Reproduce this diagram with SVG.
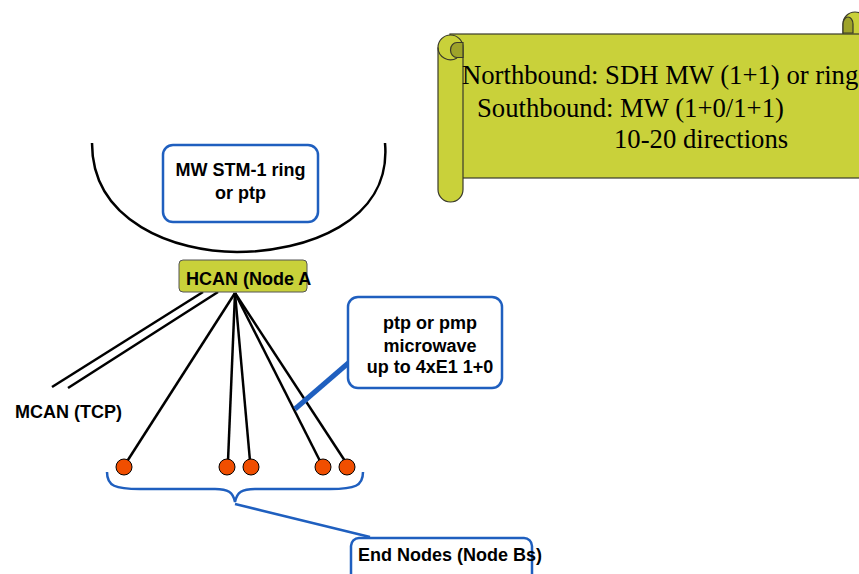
<svg xmlns="http://www.w3.org/2000/svg" width="859" height="574" viewBox="0 0 859 574">
<style>
.bold{font-family:"Liberation Sans",Arial,sans-serif;font-weight:bold;font-size:18px;fill:#000}
.serif{font-family:"Liberation Serif","Times New Roman",serif;font-size:26.7px;fill:#000}
.blue{fill:#fff;stroke:#1F5FBF;stroke-width:2.5}
.wire{stroke:#000;stroke-width:2.5;fill:none}
.end{fill:#F04E00;stroke:#000;stroke-width:1}
.scroll{fill:#C9D13A;stroke:#3a3a2a;stroke-width:1.2}
.curl{fill:#9EA32A;stroke:#3a3a2a;stroke-width:1.2}
.edge{fill:none;stroke:#3a3a2a;stroke-width:1.2}
</style>
<rect width="859" height="574" fill="#fff"/>
<g id="scroll">
  <path class="scroll" d="M843 40 L843 24 A12 12 0 0 1 867 24 L867 40 Z"/>
  <path class="curl" d="M843 33 L843 24 A5 7 0 0 1 853 24 L853 33 Z"/>
  <rect class="scroll" x="450" y="34" width="428" height="144"/>
  <path class="scroll" d="M438 47.5 A12.5 12.5 0 0 1 463 47.5 L463 189.5 A12.5 12.5 0 0 1 438 189.5 Z"/>
  <path class="curl" d="M463 42.5 L457 42.5 A6.5 7.5 0 0 0 457 57.5 L463 57.5 Z"/>
  <path class="edge" d="M438 47.5 A12.5 12.5 0 0 0 457 58"/>
  <text class="serif" x="462" y="84">Northbound: SDH MW (1+1) or ring</text>
  <text class="serif" x="477" y="117">Southbound: MW (1+0/1+1)</text>
  <text class="serif" x="614" y="148">10-20 directions</text>
</g>
<g id="connectors">
  <path class="wire" stroke-width="3" d="M92 143 C92 222, 175 252, 237 252 C305 252, 392 222, 385 143"/>
  <line class="wire" stroke-width="3.5" x1="203" y1="292" x2="52" y2="387"/>
  <line class="wire" stroke-width="3.5" x1="218" y1="292" x2="68" y2="388"/>
  <line class="wire" x1="235" y1="293" x2="126" y2="463"/>
  <line class="wire" x1="235" y1="293" x2="228" y2="461"/>
  <line class="wire" x1="235" y1="293" x2="250" y2="461"/>
  <line class="wire" x1="235" y1="293" x2="320" y2="461"/>
  <line class="wire" x1="235" y1="293" x2="345" y2="461"/>
  <line x1="295" y1="409" x2="353" y2="359" stroke="#1F5FBF" stroke-width="5"/>
  <path d="M107 472 C107 486, 115 489, 140 489 L215 489 C228 489, 233 492, 235 502 C237 492, 242 489, 255 489 L330 489 C355 489, 363 486, 363 472" fill="none" stroke="#1F5FBF" stroke-width="2.5"/>
  <line x1="235" y1="504" x2="370" y2="537" stroke="#1F5FBF" stroke-width="2.5"/>
</g>
<g id="ring-label">
  <rect class="blue" x="163" y="145" width="155" height="77" rx="10"/>
  <text class="bold" x="240.5" y="176" text-anchor="middle">MW STM-1 ring</text>
  <text class="bold" x="240.5" y="199" text-anchor="middle">or ptp</text>
</g>
<g id="hcan">
  <rect x="179" y="260" width="128" height="32" rx="4" fill="#C9D13A" stroke="#555" stroke-width="1"/>
  <text class="bold" x="186" y="285">HCAN (Node A</text>
</g>
<g id="mcan">
  <text class="bold" x="15" y="418">MCAN (TCP)</text>
</g>
<g id="mw-label">
  <rect class="blue" x="348" y="297" width="154" height="91" rx="10"/>
  <text class="bold" x="430" y="329" text-anchor="middle">ptp or pmp</text>
  <text class="bold" x="430" y="352" text-anchor="middle">microwave</text>
  <text class="bold" x="430" y="373" text-anchor="middle">up to 4xE1 1+0</text>
</g>
<g id="end-nodes">
  <circle class="end" cx="124" cy="467" r="8"/>
  <circle class="end" cx="227" cy="467" r="8"/>
  <circle class="end" cx="251" cy="467" r="8"/>
  <circle class="end" cx="323" cy="467" r="8"/>
  <circle class="end" cx="347" cy="467" r="8"/>
</g>
<g id="end-label">
  <rect class="blue" x="351" y="538" width="181" height="50" rx="8"/>
  <text class="bold" x="358" y="561">End Nodes (Node Bs)</text>
</g>
</svg>
